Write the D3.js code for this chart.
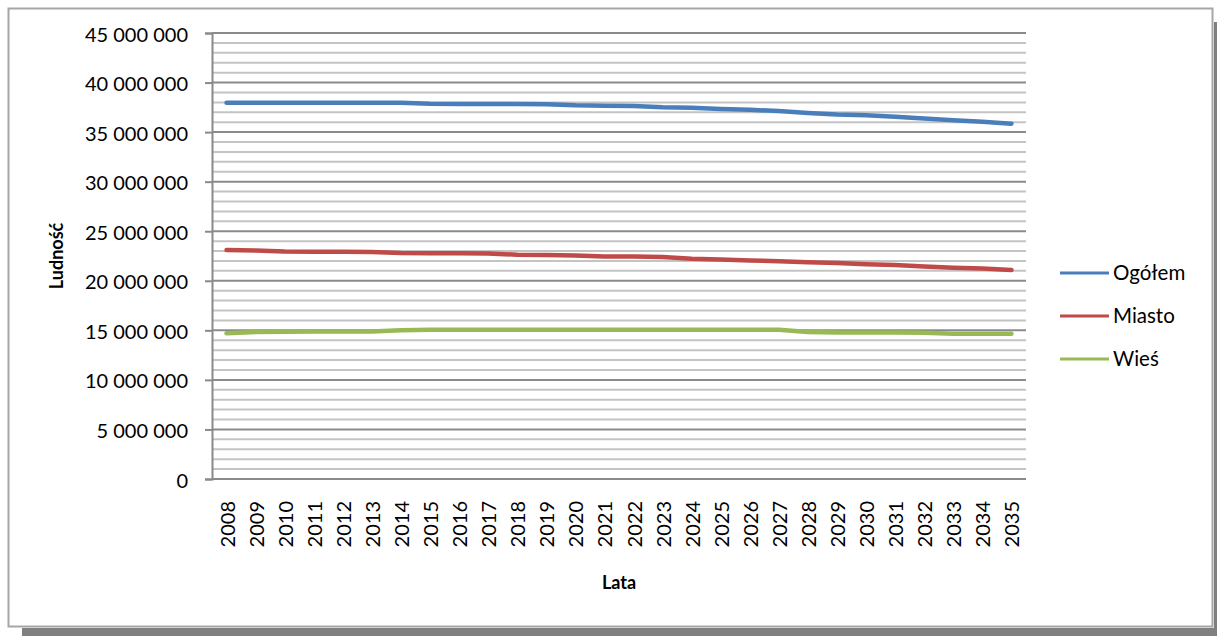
<!DOCTYPE html>
<html><head><meta charset="utf-8">
<script src="https://cdn.jsdelivr.net/npm/d3@7"></script>
<style>
html,body{margin:0;padding:0;background:#fff;}
svg{display:block;}
text{font-family:Lato,"Open Sans",sans-serif;fill:#000;}
</style></head>
<body>
<svg id="chart" width="1217" height="636"></svg>
<script>
const years = ["2008","2009","2010","2011","2012","2013","2014","2015","2016","2017","2018","2019","2020","2021","2022","2023","2024","2025","2026","2027","2028","2029","2030","2031","2032","2033","2034","2035"];
const ogolem = [37970000,37970000,37970000,37970000,37970000,37960000,37950000,37850000,37840000,37840000,37830000,37820000,37700000,37660000,37640000,37500000,37450000,37320000,37250000,37120000,36930000,36780000,36700000,36560000,36380000,36200000,36040000,35850000];
const miasto = [23100000,23050000,22950000,22930000,22930000,22900000,22800000,22780000,22770000,22750000,22630000,22600000,22560000,22440000,22450000,22400000,22230000,22150000,22050000,21980000,21860000,21800000,21680000,21600000,21450000,21310000,21230000,21080000];
const wies = [14700000,14820000,14860000,14870000,14870000,14880000,15000000,15060000,15070000,15070000,15070000,15070000,15070000,15070000,15070000,15070000,15070000,15070000,15070000,15060000,14820000,14780000,14780000,14780000,14760000,14660000,14650000,14650000];
const seriesNames = ["Ogółem","Miasto","Wieś"];
const seriesColors = ["#4a7ebb","#be4b48","#98b954"];
const yTicks = [0,5000000,10000000,15000000,20000000,25000000,30000000,35000000,40000000,45000000];

const svg = d3.select("#chart");
// shadow
svg.append("rect").attr("x",1214).attr("y",22).attr("width",3).attr("height",614).attr("fill","#808080");
svg.append("rect").attr("x",22).attr("y",628).attr("width",1195).attr("height",8).attr("fill","#808080");
// outer border
svg.append("rect").attr("x",8.5).attr("y",8.5).attr("width",1204).attr("height",618).attr("fill","#fff").attr("stroke","#a6a6a6").attr("stroke-width",2);

const pLeft=212, pRight=1026, pTop=33, pBottom=479;
const x = d3.scaleBand().domain(years).range([pLeft,pRight]);
const y = d3.scaleLinear().domain([0,45000000]).range([pBottom,pTop]);

const fmt = v => d3.format(",")(v).replace(/,/g," ");

// minor gridlines
const minor = d3.range(1000000,45000001,1000000).filter(v=>v%5000000!==0);
svg.append("g").selectAll("line").data(minor).join("line")
  .attr("x1",pLeft).attr("x2",pRight).attr("y1",d=>y(d)).attr("y2",d=>y(d))
  .attr("stroke","#c4c4c4").attr("stroke-width",2);
// major gridlines
svg.append("g").selectAll("line").data(yTicks.filter(v=>v>0)).join("line")
  .attr("x1",pLeft).attr("x2",pRight).attr("y1",d=>y(d)).attr("y2",d=>y(d))
  .attr("stroke","#8a8a8a").attr("stroke-width",2);

// y axis
const yAxis = svg.append("g").attr("transform",`translate(${pLeft},0)`)
  .call(d3.axisLeft(y).tickValues(yTicks).tickFormat(fmt).tickSize(7).tickPadding(17));
yAxis.select(".domain").attr("stroke","#8a8a8a").attr("stroke-width",2);
yAxis.selectAll(".tick line").attr("stroke","#8a8a8a").attr("stroke-width",2);
yAxis.selectAll(".tick text").attr("font-size",20).attr("font-family","Lato").attr("fill","#000").attr("dy","0.4em");

// x axis baseline
const xAxis = svg.append("g").attr("transform",`translate(0,${pBottom})`)
  .call(d3.axisBottom(x).tickSize(0).tickPadding(0));
xAxis.select(".domain").attr("stroke","#8a8a8a").attr("stroke-width",2).attr("d",`M${pLeft},0H${pRight}`);
xAxis.selectAll(".tick text")
  .attr("font-size",20).attr("font-family","Lato").attr("fill","#000")
  .attr("text-anchor","end").attr("transform","translate(1,22) rotate(-90)").attr("x",0).attr("y",0).attr("dy","0.35em");

// lines
const allSeries = [ogolem, miasto, wies];
const line = d3.line().x((d,i)=>x(years[i])+x.bandwidth()/2).y(d=>y(d));
allSeries.forEach((s,k)=>{
  svg.append("path").datum(s).attr("d",line).attr("fill","none")
    .attr("stroke",seriesColors[k]).attr("stroke-width",4.5).attr("stroke-linecap","round").attr("stroke-linejoin","round");
});

// legend
const legY = [273,316,359];
seriesNames.forEach((n,k)=>{
  svg.append("line").attr("x1",1060).attr("x2",1109).attr("y1",legY[k]).attr("y2",legY[k])
    .attr("stroke",seriesColors[k]).attr("stroke-width",3);
  svg.append("text").attr("x",1113).attr("y",legY[k]).attr("dy","0.36em").attr("font-size",20.5).text(n);
});

// axis titles
svg.append("text").attr("x",619).attr("y",583).attr("dy","0.35em").attr("text-anchor","middle")
  .attr("font-size",18).attr("font-weight","bold").text("Lata");
svg.append("text").attr("transform","translate(57,256) rotate(-90)").attr("dy","0.35em").attr("text-anchor","middle")
  .attr("font-size",18).attr("font-weight","bold").text("Ludność");
</script>
</body></html>
